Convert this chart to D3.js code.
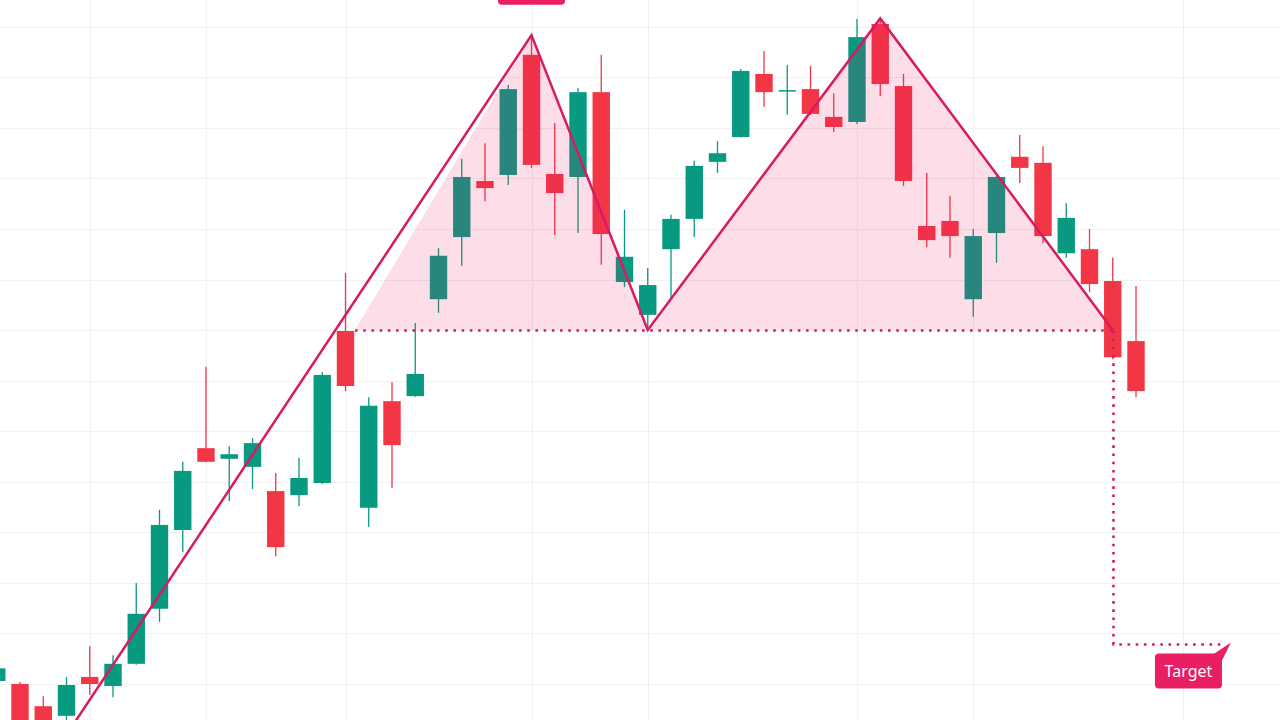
<!DOCTYPE html>
<html>
<head>
<meta charset="utf-8">
<script src="https://cdn.jsdelivr.net/npm/d3@7"></script>
<style>
  html, body { margin: 0; padding: 0; background: #ffffff; overflow: hidden; }
  svg { display: block; }
</style>
</head>
<body>
<div id="figure"></div>
<script>
// candle data (index = bar number)
var opens  = [1002.5, 999.5, 977.5, 968, 1006.5, 997.5, 1019.5, 1074, 1152, 1233,
              1222.5, 1214.5, 1190.5, 1186.5, 1198.5, 1349, 1174, 1279.5, 1284.5, 1380.5,
              1442, 1497.5, 1503.5, 1622.5, 1504.5, 1501.5, 1585.5, 1397.5, 1365, 1430,
              1460, 1516.5, 1541, 1603.5, 1586.5, 1588.5, 1561, 1556, 1653, 1591.5,
              1453, 1458, 1380.5, 1446, 1521.5, 1515.5, 1426, 1430, 1398.5, 1339];
var highs  = [1018, 1001.5, 987.5, 1006.5, 1037, 1028, 1099.5, 1172, 1219.5, 1313.5,
              1235, 1243, 1208.5, 1223.5, 1308.5, 1406.5, 1283.5, 1298.5, 1357, 1431,
              1519.5, 1535, 1592.5, 1640, 1555, 1589.5, 1622.5, 1469, 1411.5, 1464,
              1517.5, 1537, 1608.5, 1626, 1612.5, 1611.5, 1584.5, 1658, 1659, 1603.5,
              1505.5, 1482.5, 1450, 1502.5, 1543, 1532, 1475.5, 1450, 1421.5, 1393.5];
var lows   = [999.5, 949, 949, 963, 988.5, 986.5, 1018.5, 1061, 1130, 1219,
              1180.5, 1192.5, 1126, 1175.5, 1197.5, 1289.5, 1155, 1193.5, 1284, 1367,
              1413.5, 1477.5, 1493.5, 1510.5, 1444, 1446, 1414.5, 1392.5, 1352, 1381.5,
              1442, 1505.5, 1540.5, 1571, 1563, 1563, 1546, 1554, 1581.5, 1492.5,
              1432, 1421.5, 1363, 1416.5, 1495.5, 1436, 1421.5, 1387.5, 1321, 1283.5];
var closes = [1015, 959, 956, 998.5, 999.5, 1019.5, 1069, 1157, 1210.5, 1219.5,
              1227, 1238, 1135, 1203.5, 1305.5, 1294.5, 1275, 1236, 1306.5, 1423.5,
              1501.5, 1490.5, 1588.5, 1513.5, 1485.5, 1585.5, 1445, 1422.5, 1394.5, 1460,
              1512.5, 1525, 1606.5, 1585.5, 1587.5, 1564, 1551, 1640, 1593.5, 1497.5,
              1439, 1443, 1443, 1501.5, 1510.5, 1443, 1461, 1395.5, 1323, 1289.5];

// grid
var priceTicks = [1000, 1050, 1100, 1150, 1200, 1250, 1300, 1350, 1400, 1450, 1500, 1550, 1600, 1650];
var timeTicks = [4, 9, 15, 23, 28, 37, 42, 51];

// double top drawing
var patternIdx   = [2.27, 23, 28, 38, 48];
var patternPrice = [924, 1642, 1350, 1658.5, 1350];
var fillIdx      = [15.41, 23, 28, 38, 48];
var fillPrice    = [1350, 1642, 1350, 1658.5, 1350];
var necklinePrice = 1350;
var necklineStart = 15.41;
var targetPrice = 1039;
var targetEndIdx = 52.74;
var targetLabel = "Target";

var w = 1280;
var h = 720;
var green = "#089981";
var red = "#f23645";
var pink = "#d81b60";
var labelPink = "#e91e63";

var svg = d3.select("#figure")
    .append("svg")
    .attr("width", w)
    .attr("height", h);

var xScale = d3.scaleLinear()
    .domain([0, 49])
    .range([-3.25, 1136]);

var yScale = d3.scaleLinear()
    .domain([1000, 1650])
    .range([683.5, 27]);

// grid lines
svg.append("g")
    .selectAll("line")
    .data(priceTicks)
    .enter()
    .append("line")
    .attr("x1", 0)
    .attr("x2", w)
    .attr("y1", function(d) { return Math.round(yScale(d)) + 0.5; })
    .attr("y2", function(d) { return Math.round(yScale(d)) + 0.5; })
    .attr("stroke", "#f0f1f4")
    .attr("stroke-width", 1);

svg.append("g")
    .selectAll("line")
    .data(timeTicks)
    .enter()
    .append("line")
    .attr("x1", function(d) { return Math.round(xScale(d)) + 0.5; })
    .attr("x2", function(d) { return Math.round(xScale(d)) + 0.5; })
    .attr("y1", 0)
    .attr("y2", h)
    .attr("stroke", "#f0f1f4")
    .attr("stroke-width", 1);

// candles
var bw = 17.4;
var candles = svg.append("g")
    .selectAll("g")
    .data(opens.map(function(o, i) {
        return { i: i, o: o, h: highs[i], l: lows[i], c: closes[i] };
    }))
    .enter()
    .append("g");

candles.append("line")
    .attr("x1", function(d) { return xScale(d.i); })
    .attr("x2", function(d) { return xScale(d.i); })
    .attr("y1", function(d) { return yScale(d.h); })
    .attr("y2", function(d) { return yScale(d.l); })
    .attr("stroke", function(d) { return d.c >= d.o ? green : red; })
    .attr("stroke-width", 1.3);

candles.append("rect")
    .attr("x", function(d) { return xScale(d.i) - bw / 2; })
    .attr("width", bw)
    .attr("y", function(d) { return yScale(Math.max(d.o, d.c)); })
    .attr("height", function(d) {
        return Math.max(1.5, Math.abs(yScale(d.o) - yScale(d.c)));
    })
    .attr("fill", function(d) { return d.c >= d.o ? green : red; });

// pattern fill over the candles
var fillPts = fillIdx.map(function(d, i) { return [xScale(d), yScale(fillPrice[i])]; });
svg.append("path")
    .attr("d", "M" + fillPts.join("L") + "Z")
    .attr("fill", labelPink)
    .attr("fill-opacity", 0.15);

// neckline
var ny = Math.round(yScale(necklinePrice)) + 0.5;
svg.append("line")
    .attr("x1", xScale(necklineStart))
    .attr("x2", xScale(patternIdx[4]))
    .attr("y1", ny)
    .attr("y2", ny)
    .attr("stroke", pink)
    .attr("stroke-width", 2.6)
    .attr("stroke-dasharray", "2.6,5.6");

// target projection
var tx = Math.round(xScale(patternIdx[4])) + 0.5;
var ty = Math.round(yScale(targetPrice)) + 0.5;
svg.append("path")
    .attr("d", "M" + tx + "," + ny + "L" + tx + "," + ty + "L" + xScale(targetEndIdx) + "," + ty)
    .attr("fill", "none")
    .attr("stroke", pink)
    .attr("stroke-width", 2.6)
    .attr("stroke-dasharray", "2.6,5.6");

// pattern line
var line = d3.line()
    .x(function(d) { return xScale(d); })
    .y(function(d, i) { return yScale(patternPrice[i]); });
svg.append("path")
    .datum(patternIdx)
    .attr("d", line)
    .attr("fill", "none")
    .attr("stroke", pink)
    .attr("stroke-width", 2.5)
    .attr("stroke-linejoin", "miter");

// target label with pointer
var lx = xScale(targetEndIdx);
var tipX = lx + 8, tipY = ty - 2;
var rx0 = lx - 68, ry0 = ty + 9, rw = 67, rh = 35;
svg.append("path")
    .attr("d", "M" + (rx0 + rw - 9) + "," + (ry0 + 1) + "L" + tipX + "," + tipY + "L" + (rx0 + rw - 1) + "," + (ry0 + 9) + "Z")
    .attr("fill", labelPink);
svg.append("rect")
    .attr("x", rx0)
    .attr("y", ry0)
    .attr("width", rw)
    .attr("height", rh)
    .attr("rx", 4)
    .attr("fill", labelPink);
svg.append("text")
    .attr("x", rx0 + rw / 2)
    .attr("y", ry0 + rh / 2 + 5.5)
    .attr("text-anchor", "middle")
    .attr("fill", "#ffffff")
    .style("font-family", "'Noto Sans', 'Open Sans', sans-serif")
    .style("font-size", "16px")
    .text(targetLabel);

// label above first top (mostly off screen)
svg.append("rect")
    .attr("x", xScale(patternIdx[1]) - 33.5)
    .attr("y", -30)
    .attr("width", 67)
    .attr("height", 34.7)
    .attr("rx", 4)
    .attr("fill", labelPink);
</script>
</body>
</html>
